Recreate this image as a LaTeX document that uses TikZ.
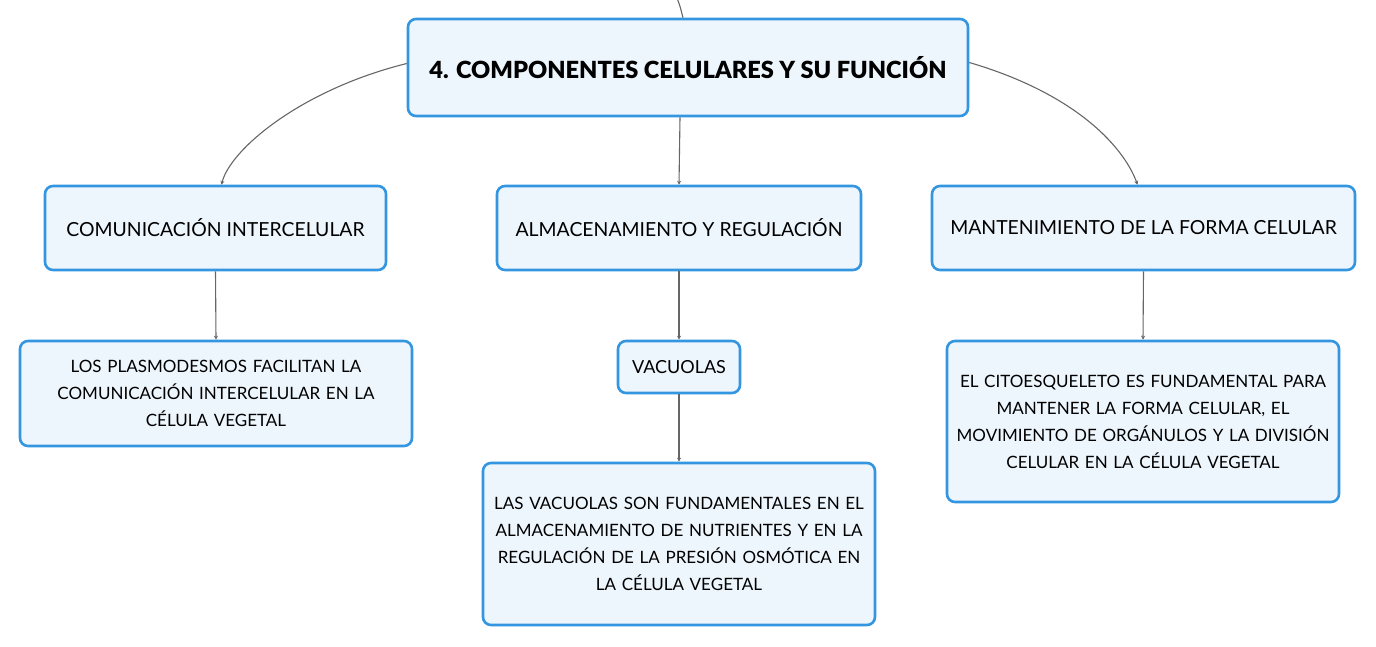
\documentclass[tikz,border=0pt]{standalone}
\usepackage{fontspec}
\setmainfont{Lato}
\newfontfamily\titlefont{Lato Black}
\usetikzlibrary{arrows.meta}
\definecolor{bordblue}{HTML}{3496E0}
\definecolor{fillblue}{HTML}{EEF6FD}
\definecolor{linegray}{HTML}{666666}
\tikzset{
  box/.style={draw=bordblue, line width=2.6pt, fill=fillblue, rounded corners=8pt, align=center, inner sep=0pt, font=\fontsize{17}{27}\selectfont, text=black},
  mainbox/.style={box, minimum height=84pt, font=\fontsize{19.4}{24}\selectfont},
  conn/.style={draw=linegray, line width=1.1pt, -{Stealth[length=4pt,width=4pt]}},
}
\begin{document}
\begin{tikzpicture}[x=1pt,y=-1pt]
\useasboundingbox (0,0) rectangle (1376,646);
\node[box, minimum width=560pt, minimum height=97pt, font=\titlefont\fontsize{23.6}{28}\selectfont] (top) at (688,67.5) {4. COMPONENTES CELULARES Y SU FUNCIÓN};
\node[mainbox, minimum width=341pt] (comm) at (215.5,228) {COMUNICACIÓN INTERCELULAR};
\node[mainbox, minimum width=364pt] (alm) at (679,228) {ALMACENAMIENTO Y REGULACIÓN};
\node[mainbox, minimum width=423pt] (mant) at (1143.5,228) {MANTENIMIENTO DE LA FORMA CELULAR};
\node[box, minimum width=392pt, minimum height=105pt, text width=360pt] (plas) at (216,393.5) {LOS PLASMODESMOS FACILITAN LA\\COMUNICACIÓN INTERCELULAR EN LA\\CÉLULA VEGETAL};
\node[box, minimum width=122pt, minimum height=52pt, font=\fontsize{18}{22}\selectfont] (vac) at (679,367) {VACUOLAS};
\node[box, minimum width=392pt, minimum height=162pt, text width=380pt] (vacd) at (679,544) {LAS VACUOLAS SON FUNDAMENTALES EN EL\\ALMACENAMIENTO DE NUTRIENTES Y EN LA\\REGULACIÓN DE LA PRESIÓN OSMÓTICA EN\\LA CÉLULA VEGETAL};
\node[box, minimum width=392pt, minimum height=161pt, text width=385pt] (cito) at (1143,421.5) {EL CITOESQUELETO ES FUNDAMENTAL PARA\\MANTENER LA FORMA CELULAR, EL\\MOVIMIENTO DE ORGÁNULOS Y LA DIVISIÓN\\CELULAR EN LA CÉLULA VEGETAL};
\coordinate (up) at (677,-2);
\draw[draw=linegray, line width=1.1pt] (up) .. controls (680,6) .. ([xshift=-5pt]top.north);
\draw[conn] ([yshift=4pt]top.west) .. controls (300,90) and (230,150) .. ([xshift=6pt]comm.north);
\draw[conn] ([xshift=-8pt]top.south) -- (alm.north);
\draw[conn] ([yshift=5pt]top.east) .. controls (1080,95) and (1125,150) .. ([xshift=-6pt]mant.north);
\draw[conn] (comm.south) -- (plas.north);
\draw[conn] (alm.south) -- (vac.north);
\draw[conn] (vac.south) -- (vacd.north);
\draw[conn] (mant.south) -- (cito.north);
\end{tikzpicture}
\end{document}
